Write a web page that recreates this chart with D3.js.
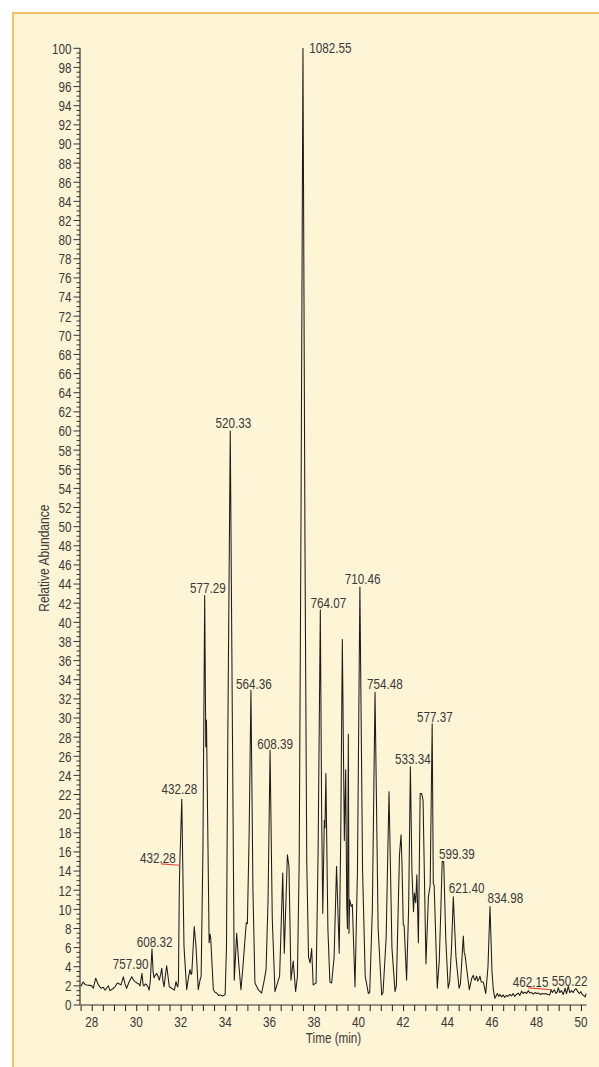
<!DOCTYPE html>
<html>
<head>
<meta charset="utf-8">
<script src="https://cdn.jsdelivr.net/npm/d3@7"></script>
<style>
  html, body { margin: 0; padding: 0; background: #ffffff; }
  svg { display: block; }
  .lbl { font-family: "Liberation Sans", Arial, sans-serif; font-size: 15px; fill: #3a3a3a; }
</style>
</head>
<body>
<svg id="chart" width="599" height="1067"></svg>
<script>
// Chromatogram trace: retention time (min) and relative abundance (%)
const retentionTime = [
  27.50,27.52,27.62,27.70,27.78,27.90,28.00,28.07,28.18,28.30,28.42,28.52,28.60,28.68,28.75,28.82,28.95,29.05,29.15,29.25,
  29.32,29.42,29.50,29.57,29.68,29.80,29.88,29.95,30.03,30.10,30.17,30.26,30.31,30.35,30.42,30.47,30.53,30.58,30.63,30.71,
  30.76,30.80,30.86,30.92,30.98,31.04,31.10,31.15,31.20,31.25,31.31,31.37,31.43,31.49,31.60,31.72,31.79,31.84,31.87,31.90,
  31.94,31.96,32.05,32.15,32.27,32.36,32.42,32.47,32.50,32.61,32.69,32.79,32.87,32.92,33.00,33.08,33.13,33.16,33.28,33.32,
  33.35,33.47,33.55,33.62,33.70,33.77,33.90,34.00,34.06,34.12,34.23,34.33,34.41,34.52,34.60,34.71,34.80,34.89,34.95,35.00,
  35.08,35.16,35.25,35.34,35.49,35.64,35.75,35.84,35.93,36.02,36.12,36.24,36.39,36.45,36.59,36.66,36.80,36.87,36.96,37.06,
  37.17,37.25,37.33,37.41,37.50,37.59,37.67,37.75,37.82,37.89,37.96,38.09,38.18,38.28,38.34,38.39,38.46,38.49,38.53,38.62,
  38.71,38.79,38.90,39.01,39.13,39.20,39.27,39.36,39.42,39.47,39.50,39.54,39.57,39.60,39.67,39.72,39.84,39.95,40.06,40.18,
  40.30,40.44,40.50,40.62,40.74,40.88,41.04,41.10,41.24,41.37,41.50,41.64,41.70,41.84,41.91,41.95,42.01,42.05,42.16,42.25,
  42.33,42.40,42.47,42.51,42.57,42.62,42.69,42.77,42.84,42.90,43.03,43.14,43.22,43.31,43.36,43.40,43.54,43.63,43.70,43.76,
  43.83,43.92,44.03,44.10,44.18,44.26,44.38,44.52,44.58,44.71,44.75,44.79,44.85,44.98,45.09,45.16,45.20,45.24,45.31,45.36,
  45.41,45.46,45.52,45.61,45.72,45.82,45.91,46.00,46.06,46.13,46.24,46.30,46.36,46.43,46.50,46.57,46.65,46.72,46.80,46.88,
  46.95,47.02,47.10,47.18,47.25,47.33,47.40,47.48,47.56,47.63,47.70,47.78,47.86,47.94,48.02,48.10,48.18,48.26,48.34,48.42,
  48.50,48.60,48.66,48.72,48.80,48.88,48.94,48.98,49.05,49.12,49.20,49.29,49.35,49.43,49.50,49.58,49.65,49.72,49.78,49.86,
  49.93,50.00,50.06,50.12,50.19,50.23
];
const relativeAbundance = [
  2.00,2.00,2.40,2.15,2.10,2.05,2.00,1.75,2.80,2.10,1.75,1.85,1.55,1.80,2.00,1.50,1.70,1.90,2.30,2.20,
  2.10,2.95,2.20,1.75,2.40,2.95,2.60,2.45,2.30,2.25,2.00,3.30,2.10,2.00,2.20,2.10,1.90,1.55,2.40,5.85,
  3.50,2.85,3.10,3.30,3.00,2.60,3.20,3.85,2.60,1.90,3.00,4.10,3.00,1.90,1.75,1.55,2.45,2.00,1.90,2.50,
  12.4,14.6,21.5,6.10,1.60,3.00,3.70,3.20,3.30,8.20,6.10,1.60,2.60,3.00,16.0,42.8,27.0,29.8,6.50,7.40,
  7.00,1.60,1.30,1.25,1.00,1.05,0.95,1.10,6.00,28.0,60.0,28.0,2.60,7.50,4.70,1.60,4.00,6.80,8.60,8.50,
  18.0,32.9,12.0,2.30,1.60,1.25,2.50,3.70,11.0,26.6,9.00,1.40,2.60,3.00,13.8,5.40,15.7,14.5,2.60,4.60,
  1.40,3.00,15.0,50.0,100.0,48.0,15.0,5.00,4.40,5.90,2.10,2.30,16.0,41.3,20.0,9.60,19.3,18.5,24.2,8.00,
  2.40,2.30,5.00,14.5,5.40,18.0,38.2,17.2,24.6,10.3,8.00,28.3,7.50,11.0,10.3,10.5,1.90,14.0,43.7,14.0,
  3.00,1.20,1.30,10.0,32.7,8.00,1.05,1.30,7.00,22.3,6.00,1.40,2.00,15.7,17.8,15.0,8.40,8.30,2.60,10.0,
  24.9,14.0,9.75,11.7,10.7,13.6,6.50,22.1,22.1,21.4,4.30,11.3,12.5,29.4,12.7,12.5,1.75,4.70,10.0,15.0,
  15.0,7.00,1.75,2.50,6.00,11.3,5.00,1.75,2.20,7.20,5.50,5.20,4.00,1.60,2.80,3.10,2.70,2.60,3.00,2.50,
  2.70,3.00,2.40,2.40,1.20,4.00,10.3,3.50,1.60,0.70,1.20,0.90,1.10,0.85,1.05,0.80,1.00,0.90,1.10,0.95,
  1.20,0.90,1.10,1.25,1.00,1.45,1.20,1.35,1.20,1.50,1.25,1.30,1.15,1.30,1.20,1.25,1.10,1.20,1.15,1.20,
  1.10,1.05,1.60,1.30,1.60,1.20,1.40,1.80,1.30,1.50,1.10,1.75,1.20,1.95,1.30,1.50,1.30,1.60,1.70,1.40,
  1.20,1.40,1.10,1.00,0.85,1.20
];

// Peak annotations (m/z of the base ion at each peak apex)
const peakLabels = ["757.90","608.32","432.28","432.28","577.29","520.33","564.36","608.39","1082.55","764.07",
                    "710.46","754.48","533.34","577.37","599.39","621.40","834.98","462.15","550.22"];
const peakTimes  = [29.80,30.71,31.96,32.05,33.08,34.23,35.16,36.02,37.50,38.28,
                    40.06,40.74,42.33,43.31,43.76,44.26,45.91,48.66,49.43];
const peakValues = [2.95,5.85,14.6,21.5,42.8,60.0,32.9,26.6,100.0,41.3,
                    43.7,32.7,24.9,29.4,15.0,11.3,10.3,1.60,1.95];

// Axis tick values
const xTickLabels = [28,30,32,34,36,38,40,42,44,46,48,50];
const yTickLabels = d3.range(0, 101, 2);

// Label placement (pixel offsets from the apex) and red leader lines
const labelDx = [-1.2,2.7,-21.8,-2.5,3.1,3.0,3.0,5.0,27.5,8.1,2.8,9.9,2.5,2.7,14.7,13.3,15.5,-20.4,1.4];
const labelDy = [-7.5,-2.3,-2.0,-5.0,-2.8,-2.7,-1.7,-2.0,4.2,-2.2,-2.6,-2.9,-2.5,-1.4,-2.5,-3.6,-3.2,-2.4,-0.3];
const leaderLabels = [2, 17];
const leaderStartDx = [3, -2.5];

// Condensed type: regular sans squeezed horizontally
const squeeze = 0.78;
function putText(sel, tx, ty, extra) {
  return sel.attr("transform", (d, i) =>
    `translate(${typeof tx === "function" ? tx(d, i) : tx},${typeof ty === "function" ? ty(d, i) : ty})` +
    (extra || "") + ` scale(${squeeze},1)`);
}

const svg = d3.select("#chart");

// Panel background with orange frame
svg.append("rect").attr("x", 12).attr("y", 12).attr("width", 599 - 12).attr("height", 1067 - 12)
  .attr("fill", "#fef4d6");
svg.append("line").attr("x1", 13).attr("x2", 13).attr("y1", 12).attr("y2", 1067)
  .attr("stroke", "#f7bd66").attr("stroke-width", 2);
svg.append("line").attr("x1", 12).attr("x2", 599).attr("y1", 13).attr("y2", 13)
  .attr("stroke", "#f7bd66").attr("stroke-width", 2);

const x = d3.scaleLinear().domain([27.5, 50.25]).range([80.6, 586.5]);
const y = d3.scaleLinear().domain([0, 100]).range([1005, 48.3]);

const axisColor = "#333333";

// X axis
const gx = svg.append("g").attr("transform", `translate(0,${y(0)})`);
gx.call(d3.axisBottom(x).tickValues(d3.range(27.5, 50.01, 0.5)).tickSize(6).tickFormat(""))
  .call(g => g.select(".domain").remove());
gx.selectAll("line").attr("stroke", axisColor).attr("stroke-width", 1.1);
gx.append("line").attr("x1", x.range()[0]).attr("x2", x.range()[1]).attr("stroke", axisColor).attr("stroke-width", 1.2);
putText(gx.selectAll(".xl").data(xTickLabels).join("text")
  .attr("class", "lbl").attr("text-anchor", "middle").text(d => d), d => x(d), 22.3);
putText(svg.append("text").attr("class", "lbl").attr("text-anchor", "middle").text("Time (min)"),
  (x.range()[0] + x.range()[1]) / 2, 1042.5);

// Y axis
const gy = svg.append("g").attr("transform", `translate(${x.range()[0] - 0.6},0)`);
gy.selectAll(".minor").data(d3.range(0, 100.01, 0.5)).join("line")
  .attr("x1", d => (d % 2 === 0 ? -6.5 : -3.5)).attr("x2", 0)
  .attr("y1", d => y(d)).attr("y2", d => y(d))
  .attr("stroke", axisColor).attr("stroke-width", 1);
gy.append("line").attr("x1", 0).attr("x2", 0).attr("y1", y(100)).attr("y2", y(0))
  .attr("stroke", axisColor).attr("stroke-width", 1.2);
putText(gy.selectAll(".yl").data(yTickLabels).join("text")
  .attr("class", "lbl").attr("text-anchor", "end").text(d => d), -8.5, d => y(d) + 5.4);
putText(svg.append("text").attr("class", "lbl").attr("text-anchor", "middle").text("Relative Abundance")
  .style("font-size", "15.5px"), 48.5, (y(0) + y(100)) / 2 + 31.5, " rotate(-90)");

// Trace
const points = retentionTime.map((t, i) => [t, relativeAbundance[i]]);
const line = d3.line().x(d => x(d[0])).y(d => y(d[1]));
svg.append("path").datum(points).attr("d", line)
  .attr("fill", "none").attr("stroke", "#1c1c1c").attr("stroke-width", 1.05)
  .attr("stroke-linejoin", "round");

// Red leader lines from labels to peaks
leaderLabels.forEach((li, k) => {
  const px = x(peakTimes[li]), py = y(peakValues[li]);
  svg.append("line")
    .attr("x1", px + labelDx[li] + leaderStartDx[k]).attr("y1", py + labelDy[li] + 0.6)
    .attr("x2", px).attr("y2", py)
    .attr("stroke", "#e8463a").attr("stroke-width", 1.1);
});

// Peak labels
putText(svg.selectAll(".peak").data(peakLabels).join("text")
  .attr("class", "lbl").attr("text-anchor", "middle").text(d => d),
  (d, i) => x(peakTimes[i]) + labelDx[i],
  (d, i) => y(peakValues[i]) + labelDy[i]);
</script>
</body>
</html>
